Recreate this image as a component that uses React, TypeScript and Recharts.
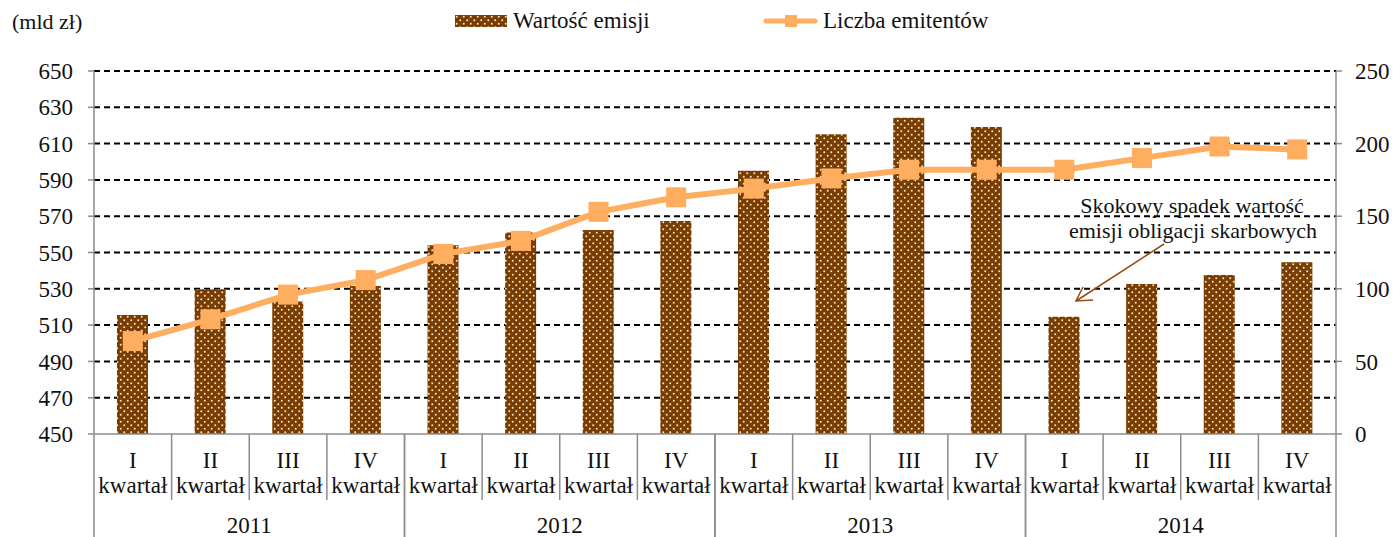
import { ComposedChart, Bar, Line, XAxis, YAxis, CartesianGrid } from "recharts"

// quarters and years for the two-level category axis
const years = ["2011", "2012", "2013", "2014"]
const quarters = ["I", "II", "III", "IV"]
const quarterWord = "kwartał"

// Wartość emisji (mld zł), left axis
const emissionValue = [515.5, 529.7, 523, 531.5, 554, 561, 562.4, 567.4, 595, 615.1, 624.3, 619.1, 514.6, 532.6, 537.6, 544.6]
// Liczba emitentów, right axis
const issuerCount = [64, 79, 96, 106, 124, 133, 153, 163, 169, 176, 182, 182, 182, 190, 198, 196]

const leftTicks = [450, 470, 490, 510, 530, 550, 570, 590, 610, 630, 650]
const rightTicks = [0, 50, 100, 150, 200, 250]

const data = years.flatMap((year, yi) =>
  quarters.map((q, qi) => {
    const i = yi * 4 + qi
    return { key: `${q} ${year}`, quarter: q, year, value: emissionValue[i], count: issuerCount[i] }
  })
)

const W = 1395
const H = 537
const PLOT_LEFT = 94
const PLOT_RIGHT = 1336
const PLOT_TOP = 71
const PLOT_BOTTOM = 434
const BAND = (PLOT_RIGHT - PLOT_LEFT) / data.length

const FONT = "'Liberation Serif', 'Times New Roman', serif"
const FS = 23
const BROWN = "#7a3d00"
const ORANGE = "#ffad5e"
const AXIS_GRAY = "#8c8c8c"

const QuarterTick = (props: any) => {
  const { x, y, payload } = props
  const i = payload.index
  const row = data[i]
  const left = x - BAND / 2
  const right = x + BAND / 2
  const qi = i % 4
  return (
    <g>
      <line x1={left} y1={y} x2={left} y2={qi === 0 ? H : y + 66} stroke={AXIS_GRAY} strokeWidth={1.5} />
      {qi === 3 && <line x1={right} y1={y} x2={right} y2={H} stroke={AXIS_GRAY} strokeWidth={1.5} />}
      <text x={x} y={y + 34} textAnchor="middle" fontSize={FS} fontFamily={FONT} fill="#111">{row.quarter}</text>
      <text x={x} y={y + 59} textAnchor="middle" fontSize={FS} fontFamily={FONT} fill="#111">{quarterWord}</text>
      {qi === 1 && (
        <text x={right} y={y + 99} textAnchor="middle" fontSize={FS} fontFamily={FONT} fill="#111">{row.year}</text>
      )}
    </g>
  )
}

const SquareDot = (props: any) => {
  const { cx, cy } = props
  if (cx == null || cy == null) return null
  return <rect x={cx - 10} y={cy - 10} width={20} height={20} fill={ORANGE} />
}

const ChartLegend = () => (
  <div style={{ position: "absolute", left: 0, top: 0, width: W, height: 40, fontSize: FS, color: "#111", lineHeight: "26px" }}>
    <div style={{ position: "absolute", left: 455, top: 8, display: "flex", alignItems: "center" }}>
      <svg width={52} height={12} style={{ marginRight: 6 }}>
        <rect width={52} height={12} fill="url(#dots)" />
      </svg>
      <span>Wartość emisji</span>
    </div>
    <div style={{ position: "absolute", left: 763, top: 8, display: "flex", alignItems: "center" }}>
      <svg width={55} height={14} style={{ marginRight: 5 }}>
        <line x1={3} y1={7} x2={52} y2={7} stroke={ORANGE} strokeWidth={5} strokeLinecap="round" />
        <rect x={22} y={1} width={12} height={12} fill={ORANGE} />
      </svg>
      <span>Liczba emitentów</span>
    </div>
  </div>
)

export default function App() {
  return (
    <div style={{ position: "fixed", left: 0, top: 0, width: W, height: H, background: "#fff", fontFamily: FONT }}>
      <div style={{ position: "absolute", left: 12, top: 9, fontSize: 22, color: "#111" }}>(mld zł)</div>
      <ComposedChart
        width={W}
        height={H}
        data={data}
        margin={{ top: PLOT_TOP, right: 0, left: 0, bottom: 0 }}
        style={{ fontFamily: FONT }}
      >
        <defs>
          <pattern id="dots" width={7} height={7} patternUnits="userSpaceOnUse">
            <rect width={7} height={7} fill={BROWN} />
            <circle cx={1.75} cy={1.75} r={1} fill="#f3e3d3" />
            <circle cx={5.25} cy={5.25} r={1} fill="#f3e3d3" />
          </pattern>
        </defs>
        <CartesianGrid
          yAxisId="left"
          vertical={false}
          horizontalValues={leftTicks.slice(1)}
          stroke="#000"
          strokeWidth={2}
          strokeDasharray="6 4"
        />
        <XAxis
          dataKey="key"
          interval={0}
          height={H - PLOT_BOTTOM}
          tickLine={false}
          tickSize={0}
          tickMargin={0}
          axisLine={{ stroke: AXIS_GRAY, strokeWidth: 1.5 }}
          tick={<QuarterTick />}
        />
        <YAxis
          yAxisId="left"
          orientation="left"
          width={PLOT_LEFT}
          domain={[450, 650]}
          ticks={leftTicks}
          interval={0}
          tickSize={6}
          tickMargin={15}
          axisLine={{ stroke: AXIS_GRAY, strokeWidth: 1.5 }}
          tickLine={{ stroke: AXIS_GRAY, strokeWidth: 1.5 }}
          tick={{ fill: "#111", fontSize: FS, fontFamily: FONT }}
        />
        <YAxis
          yAxisId="right"
          orientation="right"
          width={W - PLOT_RIGHT}
          domain={[0, 250]}
          ticks={rightTicks}
          interval={0}
          tickSize={6}
          tickMargin={13}
          axisLine={{ stroke: AXIS_GRAY, strokeWidth: 1.5 }}
          tickLine={{ stroke: AXIS_GRAY, strokeWidth: 1.5 }}
          tick={{ fill: "#111", fontSize: FS, fontFamily: FONT, textAnchor: "start" }}
        />
        <Bar yAxisId="left" dataKey="value" name="Wartość emisji" fill="url(#dots)" barSize={31} isAnimationActive={false} />
        <Line
          yAxisId="right"
          dataKey="count"
          name="Liczba emitentów"
          type="linear"
          stroke={ORANGE}
          strokeWidth={6}
          dot={<SquareDot />}
          activeDot={false}
          isAnimationActive={false}
        />
      </ComposedChart>
      <ChartLegend />
      <svg width={W} height={H} style={{ position: "absolute", left: 0, top: 0, pointerEvents: "none" }}>
        <text x={1192} y={213} textAnchor="middle" fontSize={22} fontFamily={FONT} fill="#111">Skokowy spadek wartość</text>
        <text x={1193} y={238} textAnchor="middle" fontSize={22} fontFamily={FONT} fill="#111">emisji obligacji skarbowych</text>
        <line x1={1164} y1={244} x2={1076} y2={301} stroke="#9a4a10" strokeWidth={1.5} />
        <polyline points="1083,287 1076,301 1093,300" fill="none" stroke="#9a4a10" strokeWidth={1.5} />
      </svg>
    </div>
  )
}
